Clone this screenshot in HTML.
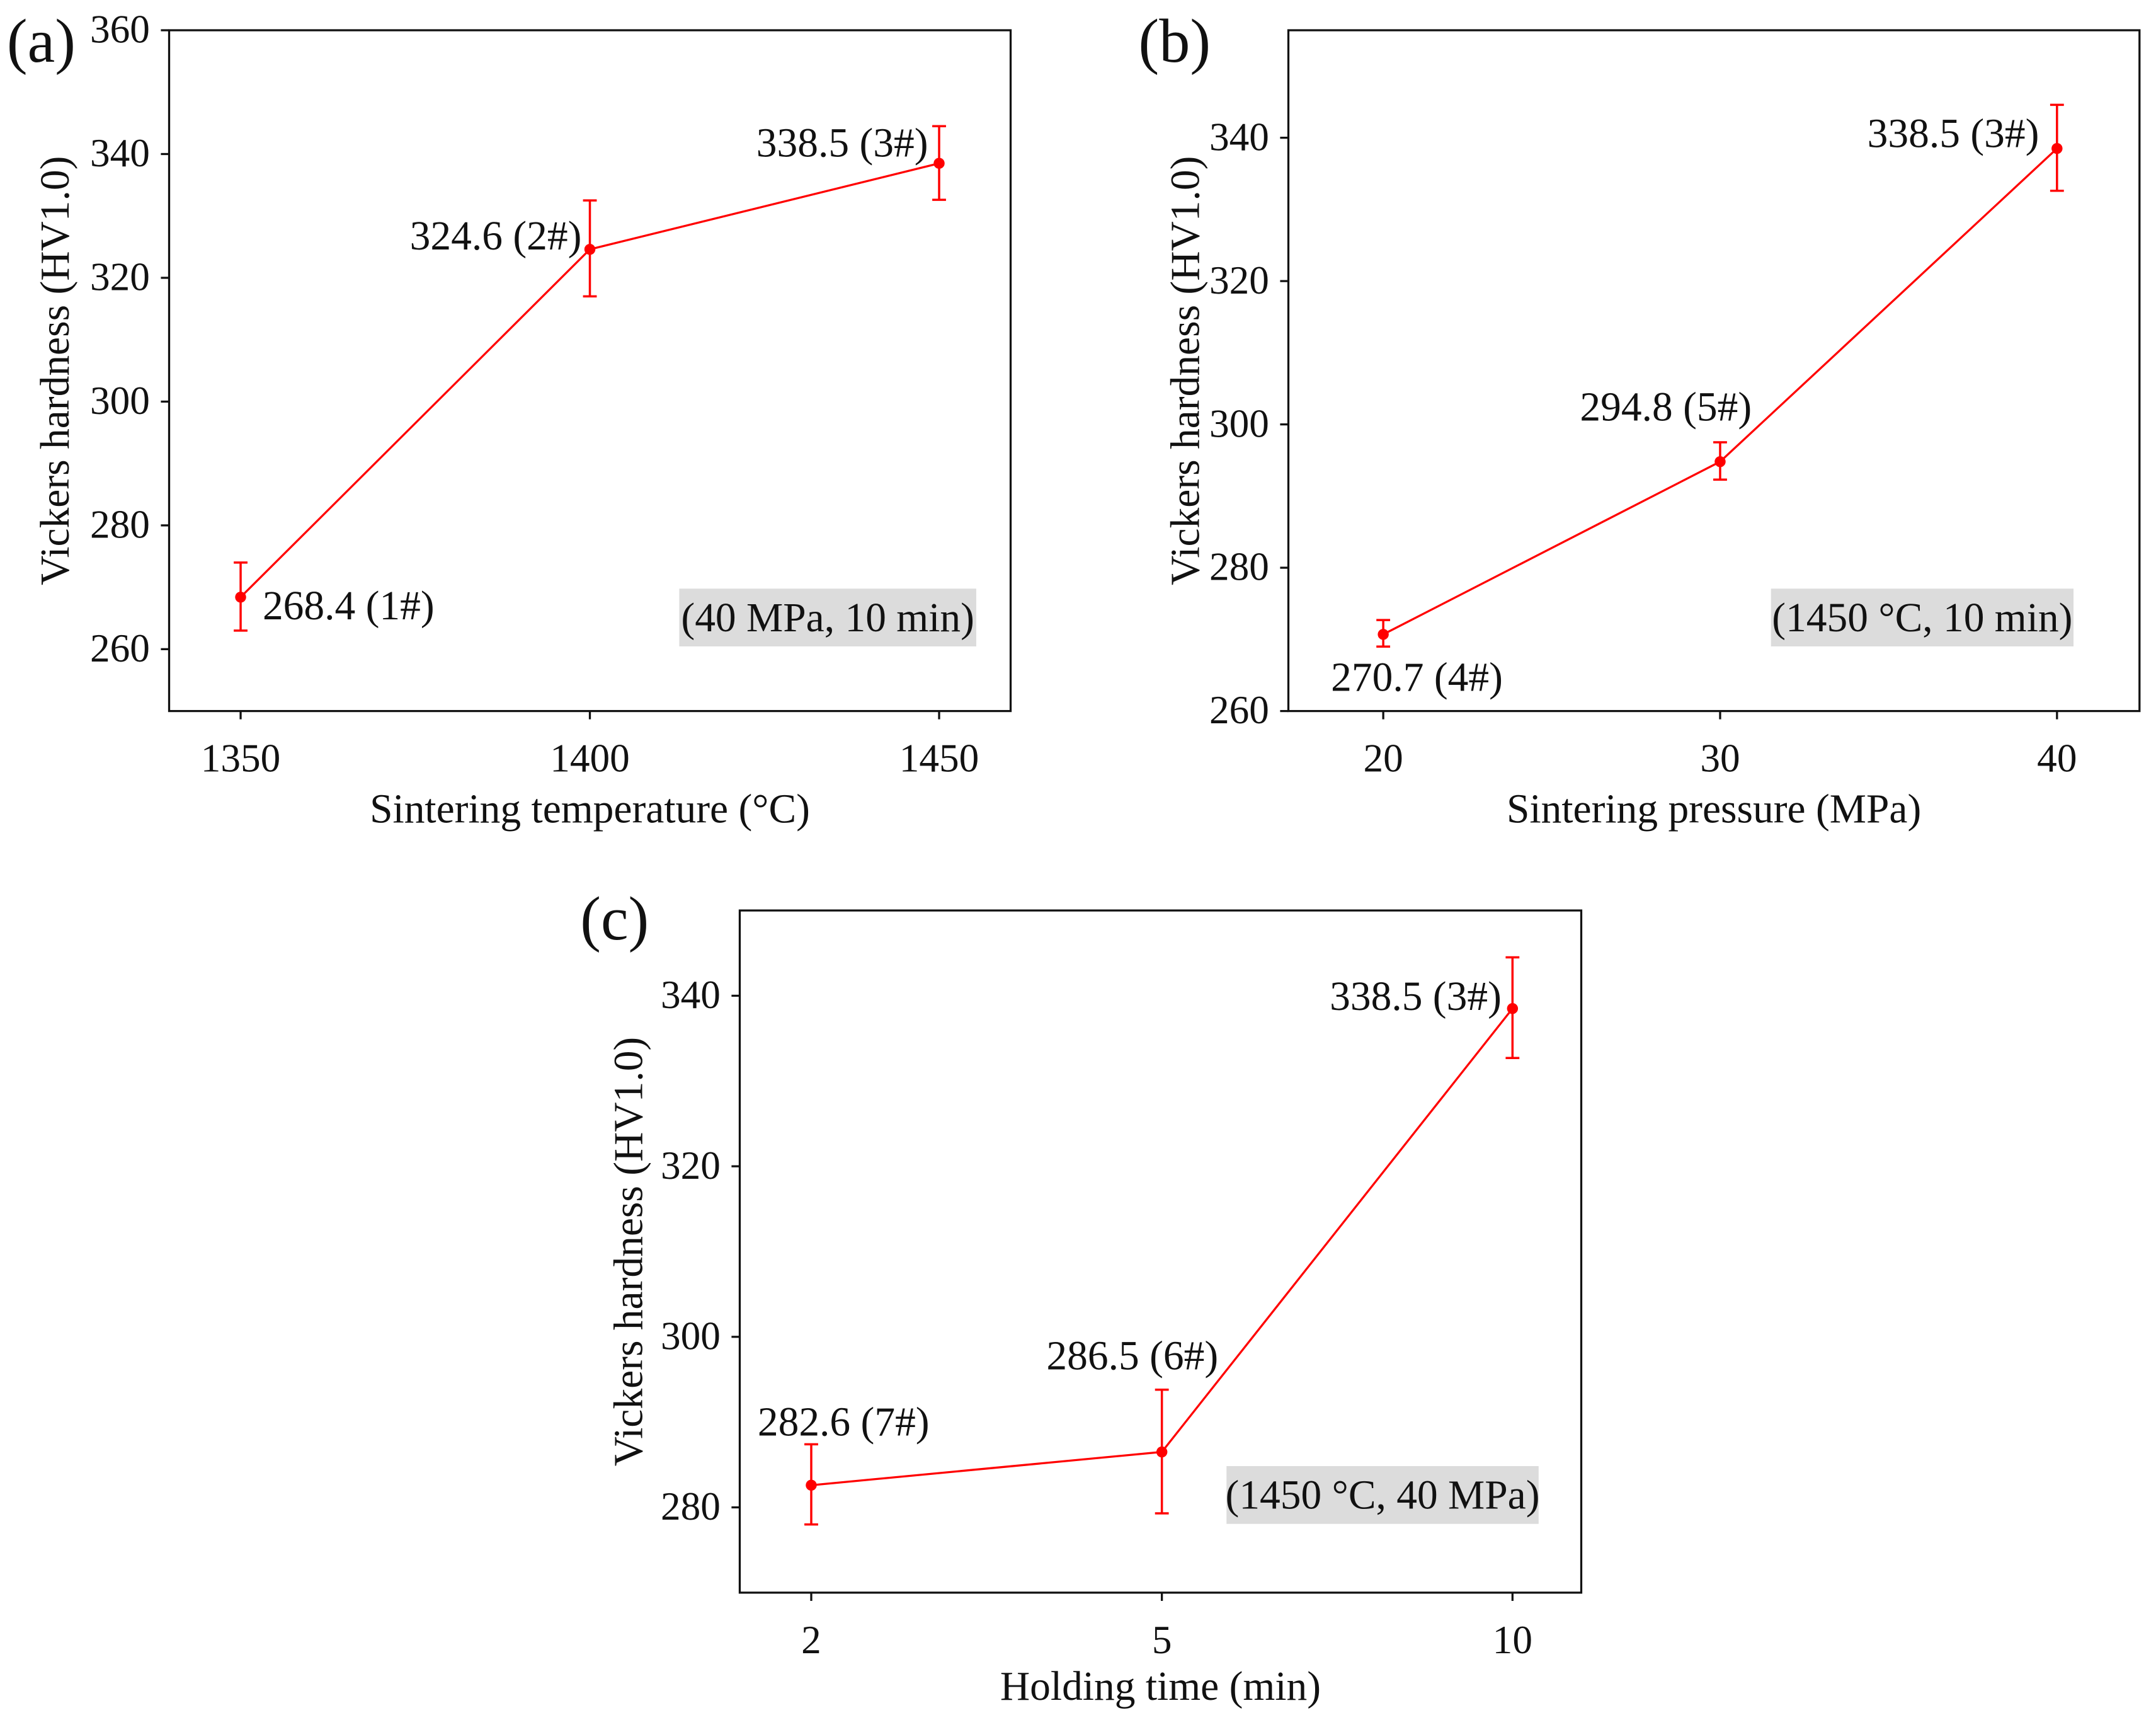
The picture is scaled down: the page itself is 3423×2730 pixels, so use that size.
<!DOCTYPE html>
<html><head><meta charset="utf-8">
<style>html,body{margin:0;padding:0;background:#fff;}svg{display:block;}text{font-family:"Liberation Serif",serif;fill:#111;}</style>
</head><body>
<svg id="fig" width="3423" height="2730" viewBox="0 0 1568 1250.6" preserveAspectRatio="none" xmlns="http://www.w3.org/2000/svg"></svg>
<script>
// Panel (a)
const aCategories = [1350, 1400, 1450];
const aValues = [268.4, 324.6, 338.5];
const aErrLow = [263.0, 317.0, 332.6];
const aErrHigh = [274.0, 332.5, 344.5];
const aLabels = ["268.4 (1#)", "324.6 (2#)", "338.5 (3#)"];
const aYTicks = [260, 280, 300, 320, 340, 360];
// Panel (b)
const bCategories = [20, 30, 40];
const bValues = [270.7, 294.8, 338.5];
const bErrLow = [269.0, 292.3, 332.6];
const bErrHigh = [272.7, 297.5, 344.6];
const bLabels = ["270.7 (4#)", "294.8 (5#)", "338.5 (3#)"];
const bYTicks = [260, 280, 300, 320, 340];
// Panel (c)
const cCategories = ["2", "5", "10"];
const cValues = [282.6, 286.5, 338.5];
const cErrLow = [278.0, 279.3, 332.7];
const cErrHigh = [287.4, 293.8, 344.5];
const cLabels = ["282.6 (7#)", "286.5 (6#)", "338.5 (3#)"];
const cYTicks = [280, 300, 320, 340];

const NS = "http://www.w3.org/2000/svg";
const svg = document.getElementById("fig");
function mk(tag, attrs, parent, txt) {
  const e = document.createElementNS(NS, tag);
  for (const k in attrs) e.setAttribute(k, attrs[k]);
  if (txt !== undefined) e.textContent = txt;
  (parent || svg).appendChild(e);
  return e;
}

function panel(cfg) {
  const g = mk("g", {});
  
  
  const L = cfg.box[0], R = cfg.box[1], T = cfg.box[2], B = cfg.box[3];
  const y = v => B - (v - cfg.ymin) / (cfg.ymax - cfg.ymin) * (B - T);
  const x = i => cfg.xpos(i);
  const frame = mk("rect", {x: L, y: T, width: R - L, height: B - T, fill: "none", stroke: "#111", "stroke-width": 1.5}, g);
  
  
  cfg.yTicks.forEach(v => {
    const t = mk("line", {x1: L - 6, x2: L, y1: y(v), y2: y(v), stroke: "#111", "stroke-width": 1.5}, g);
    
    
    const tl = mk("text", {x: L - 14, y: y(v) + 9, "font-size": 29, "text-anchor": "end"}, g, String(v));
    
    
  });
  cfg.cats.forEach((c, i) => {
    const t = mk("line", {x1: x(i), x2: x(i), y1: B, y2: B + 6, stroke: "#111", "stroke-width": 1.5}, g);
    
    
    const tl = mk("text", {x: x(i), y: B + 44, "font-size": 29, "text-anchor": "middle"}, g, String(c));
    
    
  });
  const pts = cfg.vals.map((v, i) => x(i) + "," + y(v)).join(" ");
  const line = mk("polyline", {points: pts, fill: "none", stroke: "#f00", "stroke-width": 1.5}, g);
  
  
  cfg.vals.forEach((v, i) => {
    const eb = mk("path", {d: `M${x(i)-5},${y(cfg.lo[i])}H${x(i)+5}M${x(i)},${y(cfg.lo[i])}V${y(cfg.hi[i])}M${x(i)-5},${y(cfg.hi[i])}H${x(i)+5}`, stroke: "#f00", "stroke-width": 1.6, fill: "none"}, g);
    
    
    const p = mk("circle", {cx: x(i), cy: y(v), r: 4, fill: "#f00"}, g);
    
    
    const a = cfg.ann[i];
    const at = mk("text", {x: x(i) + a[0], y: y(v) + a[1], "font-size": 30, "text-anchor": a[2]}, g, cfg.labels[i]);
    
    
  });
  const nb = mk("rect", {x: cfg.note[0], y: cfg.note[1], width: cfg.note[2], height: 42, fill: "#dcdcdc"}, g);
  
  
  const nt = mk("text", {x: cfg.note[0] + cfg.note[2] / 2, y: cfg.note[1] + 31, "font-size": 30, "text-anchor": "middle"}, g, cfg.noteText);
  
  
  const xt = mk("text", {x: (L + R) / 2, y: cfg.xtY, "font-size": 30, "text-anchor": "middle"}, g, cfg.xTitle);
  
  
  const yc = (T + B) / 2 + cfg.ytOff;
  const yt = mk("text", {x: cfg.ytX, y: yc, "font-size": 30, "text-anchor": "middle", transform: `rotate(-90 ${cfg.ytX} ${yc})`}, g, "Vickers hardness (HV1.0)");
  
  
  const pl = mk("text", {x: cfg.pl[0], y: cfg.pl[1], "font-size": 45}, g, cfg.plText);
  
  
}

panel({id: "a", box: [123, 735, 22, 517], ymin: 250, ymax: 360,
  xpos: i => 175 + (aCategories[i] - aCategories[0]) / 50 * 254,
  cats: aCategories, vals: aValues, lo: aErrLow, hi: aErrHigh, labels: aLabels, yTicks: aYTicks,
  ann: [[16, 16, "start"], [-6, 0, "end"], [-8, -5, "end"]],
  note: [494, 428, 216], noteText: "(40 MPa, 10 min)",
  xTitle: "Sintering temperature (°C)", xtY: 598, ytX: 50, ytOff: 0, pl: [5, 45], plText: "(a)"});
panel({id: "b", box: [937, 1556, 22, 517], ymin: 260, ymax: 355,
  xpos: i => 1006 + (bCategories[i] - bCategories[0]) / 10 * 245,
  cats: bCategories, vals: bValues, lo: bErrLow, hi: bErrHigh, labels: bLabels, yTicks: bYTicks,
  ann: [[-38, 41, "start"], [23, -30, "end"], [-13, -1, "end"]],
  note: [1288, 428, 220], noteText: "(1450 °C, 10 min)",
  xTitle: "Sintering pressure (MPa)", xtY: 598, ytX: 872, ytOff: 0, pl: [828, 45], plText: "(b)"});
panel({id: "c", box: [538, 1150, 662, 1158], ymin: 270, ymax: 350,
  xpos: i => 590 + i * 255,
  cats: cCategories, vals: cValues, lo: cErrLow, hi: cErrHigh, labels: cLabels, yTicks: cYTicks,
  ann: [[-39, -36, "start"], [41, -60, "end"], [-8, 1, "end"]],
  note: [892, 1066, 227], noteText: "(1450 °C, 40 MPa)",
  xTitle: "Holding time (min)", xtY: 1236, ytX: 467, ytOff: 0, pl: [422, 683], plText: "(c)"});
</script>
</body></html>
